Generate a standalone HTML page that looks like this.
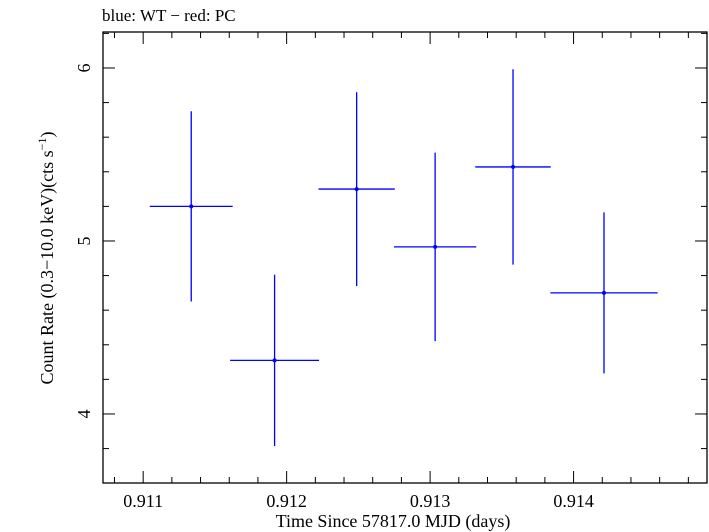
<!DOCTYPE html>
<html><head><meta charset="utf-8"><style>
html,body{margin:0;padding:0;background:#fff;}
svg{display:block;font-family:"Liberation Serif",serif;}
</style></head><body>
<svg id="chart" width="709" height="532" viewBox="0 0 709 532" xmlns="http://www.w3.org/2000/svg">
<text x="102" y="21" font-size="17">blue: WT − red: PC</text>
<rect x="103" y="32" width="604" height="451" fill="none" stroke="#000" stroke-width="1.3"/>
<g id="ticks"></g>
<g id="marks"></g>
<text x="393" y="527" font-size="18" text-anchor="middle">Time Since 57817.0 MJD (days)</text>
<text transform="translate(53,258) rotate(-90)" font-size="18" text-anchor="middle">Count Rate (0.3−10.0 keV)(cts s<tspan font-size="12" dy="-7">−1</tspan><tspan dy="7">)</tspan></text>
</svg>
<script>
const times = [0.911335, 0.911916, 0.912488, 0.913035, 0.913578, 0.914212];
const timeErr = [0.000289, 0.00031, 0.000266, 0.000287, 0.000263, 0.000374];
const rates = [5.20, 4.31, 5.30, 4.966, 5.428, 4.70];
const rateErr = [0.55, 0.495, 0.56, 0.545, 0.565, 0.465];
const xTicks = [0.911, 0.912, 0.913, 0.914];
const xTickLabels = ["0.911", "0.912", "0.913", "0.914"];
const yTicks = [4, 5, 6];
const yTickLabels = ["4", "5", "6"];

const L=103,R=707,T=32,B=483;
const x0=0.91072,x1=0.91493,y0=3.601,y1=6.208;
const X=v=>L+(v-x0)/(x1-x0)*(R-L);
const Y=v=>B-(v-y0)/(y1-y0)*(B-T);
const NS="http://www.w3.org/2000/svg";
function mk(tag,attrs,parent){const e=document.createElementNS(NS,tag);for(const k in attrs)e.setAttribute(k,attrs[k]);parent.appendChild(e);return e;}
const tg=document.getElementById('ticks');
// minor x ticks
for(let i=-2;i<=20;i++){const v=0.911+i*0.0002;if(v<x0||v>x1)continue;const px=X(v);const major=Math.abs(i%5)===0;const len=major?12:6;
 const a=mk('line',{x1:px,x2:px,y1:B,y2:B-len,stroke:'#000','stroke-width':1},tg);
 
 
 const b=mk('line',{x1:px,x2:px,y1:T,y2:T+len,stroke:'#000','stroke-width':1},tg);
 
 }
for(let i=0;i<=15;i++){const v=3.6+i*0.2;if(v<y0||v>y1)continue;const py=Y(v);const major=Math.abs(v-Math.round(v))<1e-6;const len=major?12:6;
 const a=mk('line',{x1:L,x2:L+len,y1:py,y2:py,stroke:'#000','stroke-width':1},tg);
 
 
 const b=mk('line',{x1:R,x2:R-len,y1:py,y2:py,stroke:'#000','stroke-width':1},tg);
 
 }
xTicks.forEach((v,i)=>{const t=mk('text',{x:X(v),y:507,'font-size':18,'text-anchor':'middle'},tg);t.textContent=xTickLabels[i];
 
 });
yTicks.forEach((v,i)=>{const t=mk('text',{transform:`translate(90,${Y(v)}) rotate(-90)`,'font-size':18,'text-anchor':'middle'},tg);t.textContent=yTickLabels[i];
 
 });
const mg=document.getElementById('marks');
times.forEach((t,i)=>{
 const g=mk('g',{},mg);
 
 
 mk('line',{x1:X(t-timeErr[i]),x2:X(t+timeErr[i]),y1:Y(rates[i]),y2:Y(rates[i]),stroke:'#0000ff','stroke-width':1.3},g);
 mk('line',{x1:X(t),x2:X(t),y1:Y(rates[i]-rateErr[i]),y2:Y(rates[i]+rateErr[i]),stroke:'#0000ff','stroke-width':1.3},g);
 mk('circle',{cx:X(t),cy:Y(rates[i]),r:2,fill:'#0000ff'},g);
});
</script>
</body></html>
